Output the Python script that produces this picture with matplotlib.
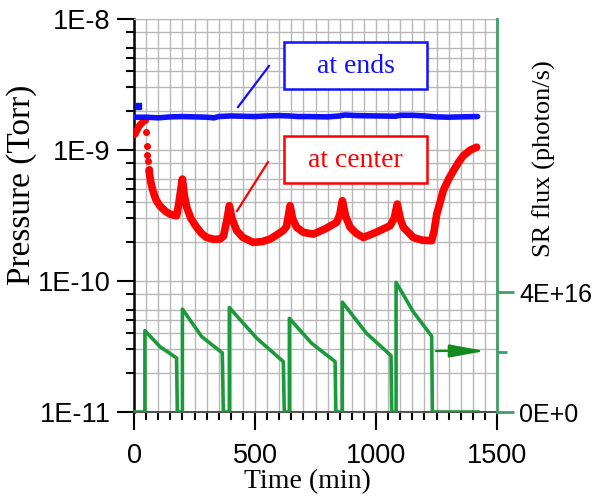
import numpy as np
import matplotlib; matplotlib.use("Agg")
import matplotlib.pyplot as plt
from matplotlib.patches import Rectangle
from matplotlib.lines import Line2D
from matplotlib.ticker import FixedLocator, LogLocator, MultipleLocator, NullFormatter

# ---- data ----
# pressure at the ends (Torr)
ends_t = [0, 50, 100, 150, 200, 250, 300, 330, 350, 400, 450, 500, 550, 600, 640, 680,
          720, 800, 850, 870, 920, 1000, 1080, 1100, 1150, 1200, 1250, 1300, 1350, 1420]
ends_p = [1.78, 1.78, 1.76, 1.79, 1.80, 1.79, 1.78, 1.76, 1.80, 1.82, 1.81, 1.80, 1.82, 1.83, 1.82, 1.80,
          1.80, 1.79, 1.82, 1.85, 1.83, 1.82, 1.81, 1.84, 1.84, 1.82, 1.79, 1.78, 1.79, 1.80]
ends_out_t = [18]
ends_out_p = [2.16]

# pressure at the center (Torr), sparse points at the start
center_early_t = [0, 4, 8, 12, 16, 20, 25, 30, 35, 40, 45, 48, 52, 55, 58, 61]
center_early_p = [1.33, 1.36, 1.40, 1.45, 1.50, 1.54, 1.58, 1.62, 1.65, 1.68, 1.68, 1.38, 1.08, 0.92, 0.82, 0.72]
center_t = [62, 70, 78, 90, 106, 130, 149, 176, 182, 190, 200, 208, 218, 235, 259, 280, 300, 330,
            355, 370, 385, 394, 405, 424, 450, 493, 530, 562, 590, 617, 630, 645, 655, 672,
            700, 741, 790, 837, 850, 861, 875, 893, 920, 948, 1000, 1058, 1075, 1088, 1100,
            1113, 1154, 1190, 1230, 1240, 1251, 1265, 1278, 1300, 1320, 1340, 1361, 1390, 1416]
center_p = [7.0, 5.6, 4.9, 4.2, 3.76, 3.4, 3.24, 3.15, 3.6, 4.5, 6.0, 4.5, 3.65, 3.0, 2.57, 2.3, 2.15, 2.08,
            2.09, 2.2, 3.0, 3.76, 3.0, 2.43, 2.15, 1.97, 2.0, 2.09, 2.25, 2.43, 2.6, 3.76, 3.0, 2.57,
            2.35, 2.28, 2.5, 2.8, 3.2, 4.1, 3.1, 2.57, 2.3, 2.15, 2.35, 2.64, 3.0, 3.87, 3.0,
            2.57, 2.15, 2.05, 2.03, 2.4, 3.24, 4.0, 4.9, 6.0, 6.95, 8.0, 9.05, 10.0, 10.5]

# SR flux (1E16 photon/s)
flux_t = [0, 45, 45, 107, 176, 179, 200, 200, 280, 365, 369, 394, 394, 507, 617, 621,
          642, 642, 734, 831, 834, 861, 861, 961, 1062, 1065, 1083, 1083, 1154, 1230, 1233, 1421]
flux_v = [0, 0, 2.71, 2.18, 1.80, 0, 0, 3.43, 2.51, 1.97, 0, 0, 3.48, 2.46, 1.68, 0,
          0, 3.12, 2.29, 1.68, 0, 0, 3.66, 2.62, 1.88, 0, 0, 4.32, 3.34, 2.53, 0, 0]

W, H = 596, 498
def fx(px): return px / W
def fy(py): return 1 - py / H

grid_c = "#b8b8b8"
green_ax = "#3c9f68"
green_ln = "#1b9a3c"
serif = "Liberation Serif"
sans = "Liberation Sans"

fig = plt.figure(figsize=(W / 100, H / 100), dpi=100)
ax = fig.add_axes([fx(134), fy(412), fx(497) - fx(134), fy(19) - fy(412)])
ax2 = ax.twinx()

ax.set_yscale("log")
ax.set_xlim(0, 1500)
ax.set_ylim(1e-11, 1e-8)

ax.xaxis.set_major_locator(MultipleLocator(500))
ax.xaxis.set_minor_locator(MultipleLocator(50))
ax.set_yticks([1e-11, 1e-10, 1e-9, 1e-8])
ax.set_yticklabels(["1E-11", "1E-10", "1E-9", "1E-8"])
ax.yaxis.set_minor_locator(LogLocator(base=10, subs=[2, 3, 4, 5, 6, 8]))
ax.yaxis.set_minor_formatter(NullFormatter())
ax.set_xticks([0, 500, 1000, 1500])
ax.set_xticklabels(["0", "500", "1000", "1500"])

ax.grid(which="both", axis="both", color=grid_c, lw=1.0)
ax.set_axisbelow(True)

ax.tick_params(axis="y", which="major", length=12, width=1.5, direction="out", labelsize=19.5, pad=5)
ax.tick_params(axis="y", which="minor", length=6, width=1.5, direction="out")
ax.tick_params(axis="x", which="major", length=13, width=1.5, direction="out", labelsize=19.5, pad=9)
ax.tick_params(axis="x", which="minor", length=6, width=1.5, direction="out")
for lab in ax.get_xticklabels() + ax.get_yticklabels():
    lab.set_family(sans)

ax.spines["left"].set_linewidth(1.8)
ax.spines["bottom"].set_color("#555555")
ax.spines["bottom"].set_linewidth(1.5)
ax.spines["top"].set_color(grid_c)
ax.spines["right"].set_visible(False)

ax.plot(ends_t, np.array(ends_p) * 1e-9, color="#1010ff", lw=4, solid_capstyle="round", zorder=4)
ax.plot(ends_out_t, np.array(ends_out_p) * 1e-9, "s", color="#1010ff", ms=4, zorder=4)
ax.plot(center_early_t, np.array(center_early_p) * 1e-9, "o", color="#ff0000", ms=5, mec="none", zorder=3)
ax.plot(center_t, np.array(center_p) * 1e-10, color="#ff0000", lw=5.5, solid_capstyle="round",
        solid_joinstyle="round", zorder=3)

ax2.plot(flux_t, np.array(flux_v) * 1e16, color=green_ln, lw=2.6, zorder=3)
ax2.set_ylim(0, 1.31e17)
ax2.yaxis.set_major_locator(FixedLocator([0, 4e16]))
ax2.yaxis.set_minor_locator(FixedLocator([2e16]))
ax2.set_yticklabels(["0E+0", "4E+16"])
ax2.tick_params(axis="y", which="major", length=12, width=2, color=green_ax, labelsize=18, pad=4)
ax2.tick_params(axis="y", which="minor", length=7, width=2, color=green_ax)
for lab in ax2.get_yticklabels():
    lab.set_family(sans)
for s in ["left", "top", "bottom"]:
    ax2.spines[s].set_visible(False)
ax2.spines["right"].set_color(green_ax)
ax2.spines["right"].set_linewidth(2)

fig.text(fx(307), fy(482), "Time (min)", family=serif, fontsize=20, ha="center", va="center")
fig.text(fx(22), fy(185), "Pressure (Torr)", family=serif, fontsize=24, rotation=90, ha="center", va="center")
fig.text(fx(544), fy(159), "SR flux (photon/s)", family=serif, fontsize=19, rotation=90, ha="center", va="center")

# labelled boxes with leader lines
for (y0, y1, txt, col, l0, l1) in [
    (42, 89, "at ends", "#1010ff", (238, 107), (269, 66)),
    (136, 183, "at center", "#ff0000", (237, 211), (268, 162)),
]:
    fig.patches.append(Rectangle((fx(284), fy(y1)), fx(427) - fx(284), fy(y0) - fy(y1),
                                 transform=fig.transFigure, fill=True, fc="white", ec=col, lw=1.8, zorder=5))
    fig.text(fx(355.5), fy((y0 + y1) / 2 + 1), txt, family=serif, fontsize=20, color=col,
             ha="center", va="center", zorder=6)
    fig.lines.append(Line2D([fx(l0[0]), fx(l1[0])], [fy(l0[1]), fy(l1[1])],
                            transform=fig.transFigure, color=col, lw=1.6, zorder=5))

# arrow pointing to the right axis
ax.annotate("", xy=(fx(485), fy(351)), xytext=(fx(436), fy(351)), xycoords="figure fraction",
            textcoords="figure fraction",
            arrowprops=dict(arrowstyle="-|>,head_length=1.2,head_width=0.22", color="#148a1e", lw=1.6,
                            mutation_scale=18, shrinkA=0, shrinkB=0))

fig.savefig("out.png", dpi=100)
